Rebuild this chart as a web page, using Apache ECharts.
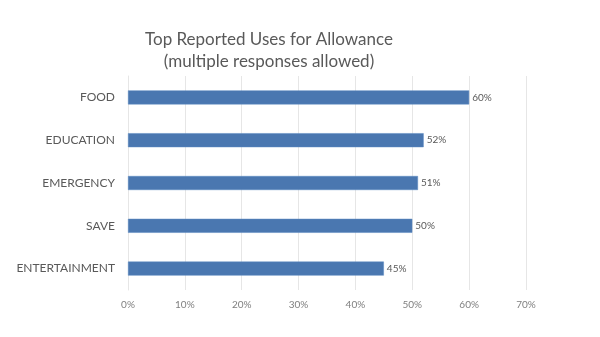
<!DOCTYPE html>
<html>
<head>
<meta charset="utf-8">
<script src="https://cdn.jsdelivr.net/npm/echarts@6/dist/echarts.min.js"></script>
<style>
  html, body { margin: 0; padding: 0; background: #fff; }
  #chart { width: 600px; height: 337px; }
</style>
</head>
<body>
<div id="chart"></div>
<script>
// Uses of allowance, listed top to bottom
const categories = ['FOOD', 'EDUCATION', 'EMERGENCY', 'SAVE', 'ENTERTAINMENT'];
// Share of respondents (%)
const shares = [60, 52, 51, 50, 45];
// Value axis range and step (%)
const axisMin = 0;
const axisMax = 70;
const axisStep = 10;

const chart = echarts.init(document.getElementById('chart'), null, { renderer: 'canvas' });
const font = 'Lato, "Open Sans", "Liberation Sans", sans-serif';

chart.setOption({
  animation: false,
  backgroundColor: '#ffffff',
  title: {
    text: 'Top Reported Uses for Allowance\n(multiple responses allowed)',
    left: 264,
    top: 24,
    textAlign: 'center',
    textStyle: {
      fontFamily: font,
      fontSize: 17,
      fontWeight: 'normal',
      color: '#595959',
      lineHeight: 22
    }
  },
  grid: { left: 128, right: 74, top: 76, bottom: 47, containLabel: false },
  xAxis: {
    type: 'value',
    min: axisMin,
    max: axisMax,
    interval: axisStep,
    axisLine: { show: false },
    axisTick: { show: false },
    splitLine: { show: true, lineStyle: { color: '#e6e6e6', width: 1 } },
    axisLabel: {
      formatter: v => v + '%',
      fontFamily: font,
      fontSize: 10,
      color: '#7f7f7f',
      margin: 10
    }
  },
  yAxis: {
    type: 'category',
    data: categories,
    inverse: true,
    axisLine: { show: true, lineStyle: { color: '#e6e6e6' } },
    axisTick: { show: false },
    axisLabel: {
      fontFamily: font,
      fontSize: 12,
      color: '#595959',
      margin: 13
    }
  },
  series: [{
    type: 'bar',
    data: shares,
    barWidth: 14,
    itemStyle: { color: '#4a77b0', borderColor: '#5b88c0', borderWidth: 0.5 },
    label: {
      show: true,
      position: 'right',
      distance: 3,
      formatter: p => p.value + '%',
      fontFamily: font,
      fontSize: 10,
      color: '#595959'
    }
  }]
});
</script>
</body>
</html>
